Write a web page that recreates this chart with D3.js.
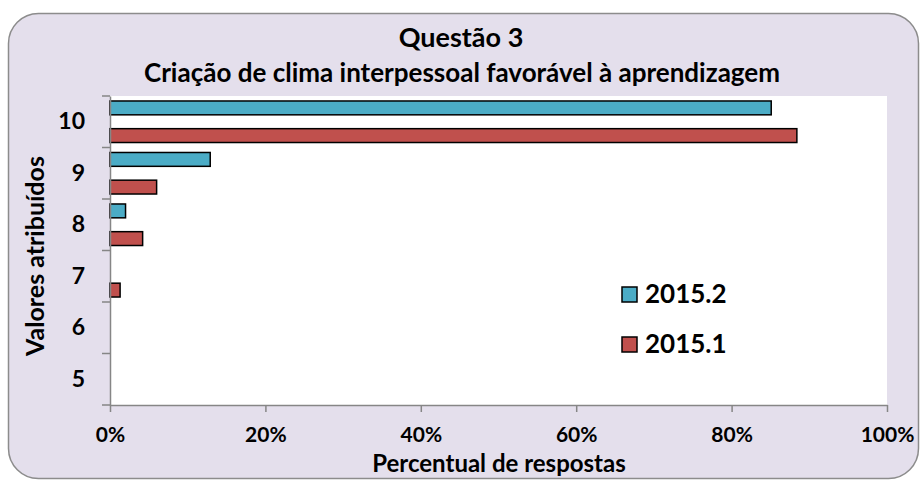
<!DOCTYPE html>
<html>
<head>
<meta charset="utf-8">
<title>Questão 3</title>
<script src="https://d3js.org/d3.v7.min.js"></script>
<style>
  body { margin: 0; background: #fff; }
  text { font-family: Lato, "Open Sans", sans-serif; font-weight: bold; fill: #000; }
</style>
</head>
<body>
<div id="chart"></div>
<script>
// data
var categories = ["10", "9", "8", "7", "6", "5"];
var seriesNames = ["2015.2", "2015.1"];
var values2015_2 = [0.851, 0.129, 0.020, 0, 0, 0];
var values2015_1 = [0.884, 0.060, 0.042, 0.013, 0, 0];
var xTicks = [0, 0.2, 0.4, 0.6, 0.8, 1];
var colors = { "2015.2": "#4BACC6", "2015.1": "#C0504D" };

var W = 923, H = 480;
var margin = { top: 96, right: 36, bottom: 75, left: 110 };
var width = W - margin.left - margin.right,
    height = H - margin.top - margin.bottom;

var svg = d3.select("#chart").append("svg")
    .attr("width", W)
    .attr("height", H);

// chart background
svg.append("rect")
    .attr("x", 8.5).attr("y", 13.5)
    .attr("width", 910).attr("height", 465)
    .attr("rx", 30).attr("ry", 30)
    .attr("fill", "#E4DFEC")
    .attr("stroke", "#8C8C8C")
    .attr("stroke-width", 1.5);

// titles
svg.append("text")
    .attr("x", 461).attr("y", 47)
    .attr("text-anchor", "middle")
    .style("font-size", "27px")
    .text("Questão 3");
svg.append("text")
    .attr("x", 462).attr("y", 82)
    .attr("text-anchor", "middle")
    .style("font-size", "26px")
    .text("Criação de clima interpessoal favorável à aprendizagem");

var g = svg.append("g")
    .attr("transform", "translate(" + margin.left + "," + margin.top + ")");

// plot area
g.append("rect")
    .attr("width", width).attr("height", height)
    .attr("fill", "#fff");

var x = d3.scaleLinear().domain([0, 1]).range([0, width]);
var y = d3.scaleBand().domain(categories).range([0, height]).padding(0);
var ySub = d3.scaleBand().domain(seriesNames)
    .range([0, y.bandwidth()])
    .paddingInner(0.5)
    .paddingOuter(0.18);

var rows = categories.map(function (c, i) {
    return { cat: c, vals: [
        { s: "2015.2", v: values2015_2[i] },
        { s: "2015.1", v: values2015_1[i] }
    ] };
});

// bars
var grp = g.selectAll(".cat").data(rows).enter().append("g")
    .attr("class", "cat")
    .attr("transform", function (d) { return "translate(0," + y(d.cat) + ")"; });
grp.selectAll("rect").data(function (d) { return d.vals.filter(function (e) { return e.v > 0; }); })
    .enter().append("rect")
    .attr("x", x(0))
    .attr("y", function (d) { return ySub(d.s); })
    .attr("width", function (d) { return x(d.v) - x(0); })
    .attr("height", ySub.bandwidth())
    .attr("fill", function (d) { return colors[d.s]; })
    .attr("stroke", "#000")
    .attr("stroke-width", 1.5);

// x axis
var xAxis = g.append("g")
    .attr("transform", "translate(0," + height + ")")
    .call(d3.axisBottom(x).tickValues(xTicks).tickFormat(d3.format(".0%"))
        .tickSize(7).tickSizeOuter(0).tickPadding(15));
xAxis.selectAll("text").style("font-size", "21px");

// y axis: labels at band centres, ticks on band edges
var yAxis = g.append("g")
    .call(d3.axisLeft(y).tickSize(0).tickPadding(25));
yAxis.selectAll("text").style("font-size", "23px");
yAxis.selectAll(".tick line").remove();
var yEdges = categories.map(function (c) { return y(c); }).concat([height]);
yAxis.selectAll(".edge").data(yEdges).enter().append("line")
    .attr("class", "edge")
    .attr("x1", -8).attr("x2", 0)
    .attr("y1", function (d) { return d; }).attr("y2", function (d) { return d; });

g.selectAll(".domain, .tick line, .edge")
    .attr("stroke", "#868686")
    .attr("stroke-width", 1.5);

// axis titles
svg.append("text")
    .attr("transform", "translate(44,256) rotate(-90)")
    .attr("text-anchor", "middle")
    .style("font-size", "25px")
    .text("Valores atribuídos");
svg.append("text")
    .attr("x", 499).attr("y", 472)
    .attr("text-anchor", "middle")
    .style("font-size", "24px")
    .text("Percentual de respostas");

// legend
var legend = svg.selectAll(".legend").data(seriesNames).enter().append("g")
    .attr("class", "legend")
    .attr("transform", function (d, i) { return "translate(622," + (287 + i * 50) + ")"; });
legend.append("rect")
    .attr("width", 15).attr("height", 15)
    .attr("fill", function (d) { return colors[d]; })
    .attr("stroke", "#000")
    .attr("stroke-width", 1.5);
legend.append("text")
    .attr("x", 23).attr("y", 16)
    .style("font-size", "26px")
    .text(function (d) { return d; });
</script>
</body>
</html>
